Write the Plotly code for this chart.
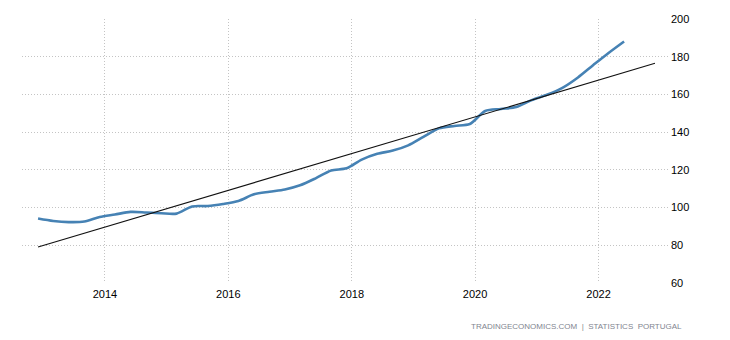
import plotly.graph_objects as go

# Quarterly house price index, dated on the first day of each quarter's last month
dates = [
    "2012-12-01", "2013-03-01", "2013-06-01", "2013-09-01",
    "2013-12-01", "2014-03-01", "2014-06-01", "2014-09-01",
    "2014-12-01", "2015-03-01", "2015-06-01", "2015-09-01",
    "2015-12-01", "2016-03-01", "2016-06-01", "2016-09-01",
    "2016-12-01", "2017-03-01", "2017-06-01", "2017-09-01",
    "2017-12-01", "2018-03-01", "2018-06-01", "2018-09-01",
    "2018-12-01", "2019-03-01", "2019-06-01", "2019-09-01",
    "2019-12-01", "2020-03-01", "2020-06-01", "2020-09-01",
    "2020-12-01", "2021-03-01", "2021-06-01", "2021-09-01",
    "2021-12-01", "2022-03-01", "2022-06-01",
]
values = [
    94.2, 92.9, 92.3, 92.6,
    95.0, 96.3, 97.7, 97.4,
    97.0, 96.8, 100.6, 100.8,
    101.9, 103.5, 107.0, 108.4,
    109.6, 111.8, 115.5, 119.7,
    120.8, 125.4, 128.5, 130.2,
    133.0, 137.5, 142.0, 143.3,
    144.3, 151.2, 152.3, 153.3,
    157.0, 159.8, 163.5, 169.0,
    175.6, 182.0, 188.1,
]

# Linear trend endpoints
trend_dates = ["2012-12-01", "2022-12-01"]
trend_values = [79.1, 176.5]

year_ticks = ["2014-01-01", "2016-01-01", "2018-01-01", "2020-01-01", "2022-01-01"]
year_labels = ["2014", "2016", "2018", "2020", "2022"]
y_ticks = [60, 80, 100, 120, 140, 160, 180, 200]

fig = go.Figure()
fig.add_trace(go.Scatter(
    x=dates, y=values, mode="lines",
    line=dict(color="#4682b4", width=2.6, shape="spline", smoothing=0.8),
    hoverinfo="skip",
))
fig.add_trace(go.Scatter(
    x=trend_dates, y=trend_values, mode="lines",
    line=dict(color="#111111", width=1.1),
    hoverinfo="skip",
))

grid = "#c4c4c4"
fig.update_layout(
    width=730, height=340,
    margin=dict(l=22, r=62, t=19, b=57),
    paper_bgcolor="white", plot_bgcolor="white",
    showlegend=False,
    font=dict(family="Liberation Sans, Arial, sans-serif", size=11, color="#000000"),
    xaxis=dict(
        type="date",
        range=["2012-08-28", "2023-02-16"],
        tickvals=year_ticks, ticktext=year_labels,
        showgrid=True, gridcolor=grid, griddash="1px,2px", gridwidth=1,
        showline=False, zeroline=False, ticks="",
        ticklabelstandoff=3,
    ),
    yaxis=dict(
        side="right",
        range=[60, 200],
        tickvals=y_ticks,
        showgrid=True, gridcolor=grid, griddash="1px,2px", gridwidth=1,
        showline=False, zeroline=False, ticks="",
        ticklabelstandoff=2,
    ),
    annotations=[dict(
        text="TRADINGECONOMICS.COM  |  STATISTICS  PORTUGAL",
        xref="paper", yref="paper",
        x=(684 - 22) / 646, y=-(326 - 283) / 264,
        xanchor="right", yanchor="middle",
        showarrow=False,
        font=dict(family="Liberation Sans, Arial, sans-serif", size=8, color="#7f8590"),
    )],
)

fig.write_html("out.html")
